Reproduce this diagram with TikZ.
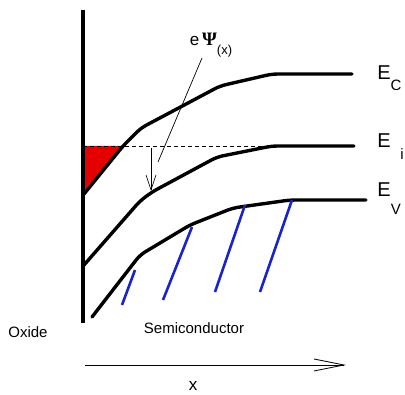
\documentclass[tikz,border=0pt]{standalone}
\usepackage{fontspec}
\setmainfont{Liberation Sans}
\newfontfamily\psifont{Liberation Serif}
\usetikzlibrary{arrows.meta}
\begin{document}
\begin{tikzpicture}[x=1pt,y=-1pt,
  band/.style={line width=3.4pt,line join=round,line cap=round,rounded corners=6pt},
  hatch/.style={line width=2.6pt,draw={rgb,255:red,25;green,35;blue,205}},
  lbl/.style={inner sep=0pt,anchor=center},
  big/.style={lbl,font=\fontsize{20}{20}\selectfont},
  sub/.style={lbl,font=\fontsize{15}{15}\selectfont},
  txt/.style={lbl,font=\fontsize{15}{15}\selectfont}]
\useasboundingbox (0,0) rectangle (405,395);
% red region
\fill[red!90!black] (83,146) -- (123,146) -- (84,191) -- cycle;
% dashed Ei reference
\draw[dashed,line width=0.8pt,dash pattern=on 4pt off 3pt] (83,146) -- (272,146);
% oxide interface
\draw[line width=3.6pt] (83,10) -- (83,323);
% bands
\draw[band] (84,194) -- (123,146) -- (141,128) -- (220,86) -- (272,74) -- (352,74);
\draw[band] (84,265) -- (140,201) -- (152,192) -- (217,157) -- (272,146) -- (354,146);
\draw[band] (92,317) -- (140,255) -- (190,225) -- (233,208) -- (290,200) -- (366,200);
% hatching
\draw[hatch] (122,305) -- (135,270);
\draw[hatch] (163,300) -- (192,227);
\draw[hatch] (215,292) -- (245,205);
\draw[hatch] (260,292) -- (292,200);
% band labels
\node[big] (ec) at (384,73) {E};
\node[sub] (ecs) at (396,85) {C};
\node[big] (ei) at (384,141) {E};
\node[sub] (eis) at (402,154) {i};
\node[big] (ev) at (384,190) {E};
\node[sub] (evs) at (396,209) {V};
% potential label and arrows
\node[lbl,font=\fontsize{17}{17}\selectfont] (psi) at (211,45) {e\,{\psifont\bfseries\fontsize{19}{19}\selectfont Ψ}\raisebox{-1.0ex}{\fontsize{13}{13}\selectfont(x)}};
\coordinate (pa) at (202,58);
\coordinate (pb) at (158,162);
\draw[line width=0.7pt] (pa) -- (pb);
\coordinate (va) at (151,148);
\coordinate (vb) at (151,191);
\draw[line width=0.7pt,-{Straight Barb[length=15pt,width=10pt,line width=0.7pt]}] (va) -- (vb);
% region labels
\node[txt] (ox) at (28,332) {Oxide};
\node[txt] (sc) at (194,328) {Semiconductor};
% x axis
\coordinate (xa) at (85,365);
\coordinate (xb) at (346,365);
\draw[line width=0.8pt,-{Straight Barb[length=30pt,width=12pt,line width=0.8pt]}] (xa) -- (xb);
\node[lbl,font=\fontsize{17}{17}\selectfont] (xl) at (193,386) {x};
\end{tikzpicture}
\end{document}
